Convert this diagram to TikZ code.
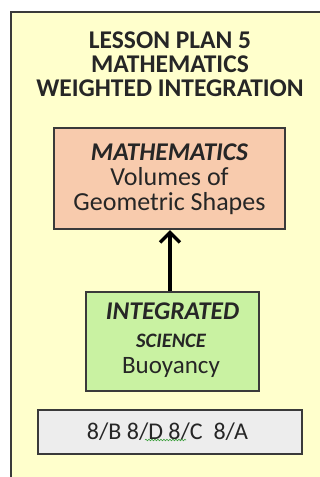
\documentclass[tikz,border=0pt]{standalone}
\usepackage{fontspec}
\setmainfont{Carlito}
\usetikzlibrary{arrows.meta,decorations.pathmorphing}
\definecolor{bgyellow}{HTML}{FFFFCC}
\definecolor{salmon}{HTML}{F8CBAD}
\definecolor{lgreen}{HTML}{C9F2A2}
\definecolor{lgray}{HTML}{EDEDED}
\definecolor{edge}{HTML}{3A3A3A}
\definecolor{squig}{HTML}{3CA03C}
\tikzset{
  panel/.style={draw=edge, line width=1.6pt},
  txt/.style={inner sep=0pt, align=center, text=black!85},
}
\begin{document}
\begin{tikzpicture}[x=1pt,y=-1pt]
\useasboundingbox (0,0) rectangle (320,477);
\clip (0,0) rectangle (320,477);
\fill[white] (0,0) rectangle (320,477);
\draw[panel, fill=bgyellow] (11,12) rectangle (340,500);
\node[txt, font=\fontsize{25.5}{24}\selectfont\bfseries] (title) at (170,64)
  {LESSON PLAN 5\\MATHEMATICS\\WEIGHTED INTEGRATION};
\draw[panel, fill=salmon] (54,128) rectangle (285,229);
\node[txt, font=\fontsize{25.5}{24}\selectfont\bfseries\itshape] (mt) at (169.5,152) {MATHEMATICS};
\node[txt, font=\fontsize{26}{25}\selectfont] (mv) at (169.5,191) {Volumes of\\Geometric Shapes};
\coordinate (mbot) at (170,230);
\draw[panel, fill=lgreen] (86,292) rectangle (259,391);
\coordinate (gtop) at (170,291);
\node[txt, font=\fontsize{25.5}{24}\selectfont\bfseries\itshape] (gi) at (172.5,311) {INTEGRATED};
\node[txt, font=\fontsize{20.5}{20}\selectfont\bfseries\itshape] (gs) at (171,341) {SCIENCE};
\node[txt, font=\fontsize{25}{24}\selectfont] (gb) at (171,367) {Buoyancy};
\draw[line width=4pt, -{Straight Barb[length=10pt,width=20pt,line width=3.5pt]}] (gtop) -- (mbot);
\draw[panel, fill=lgray] (38,410) rectangle (302,454);
\node[txt, font=\fontsize{24}{24}\selectfont] (codes) at (167.5,432) {8/B 8/D 8/C\ \ 8/A};
\coordinate (sq1) at (145,440);
\coordinate (sq2) at (186,440);
\draw[squig, line width=0.6pt, decorate, decoration={snake, amplitude=0.8pt, segment length=3pt}] (sq1) -- (sq2);
\end{tikzpicture}
\end{document}
